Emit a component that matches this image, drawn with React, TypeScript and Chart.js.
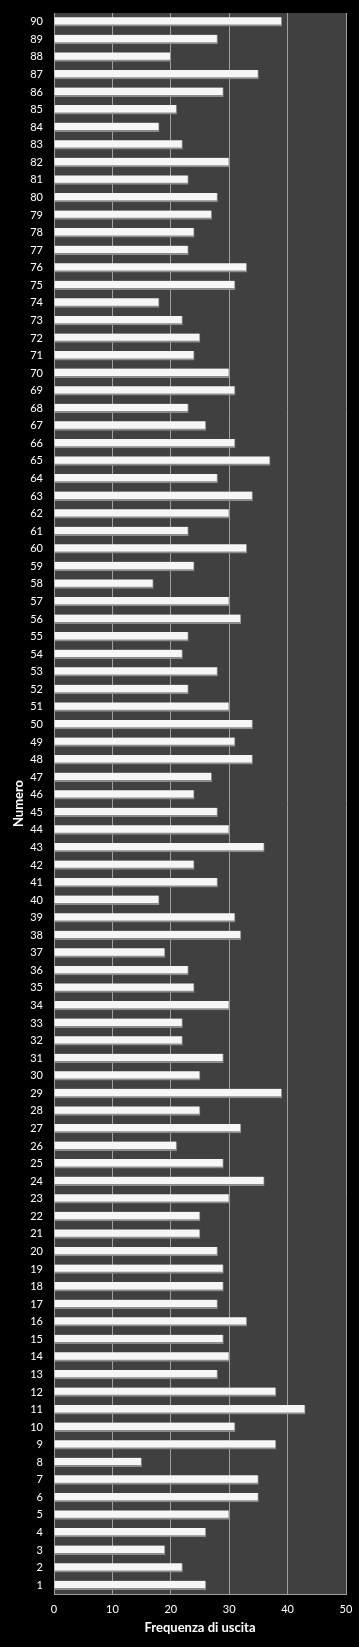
import React, { useEffect, useRef } from "react";
import { Chart, registerables } from "chart.js";

Chart.register(...registerables);

const numbers: string[] = [
  "1", "2", "3", "4", "5", "6", "7", "8", "9", "10",
  "11", "12", "13", "14", "15", "16", "17", "18", "19", "20",
  "21", "22", "23", "24", "25", "26", "27", "28", "29", "30",
  "31", "32", "33", "34", "35", "36", "37", "38", "39", "40",
  "41", "42", "43", "44", "45", "46", "47", "48", "49", "50",
  "51", "52", "53", "54", "55", "56", "57", "58", "59", "60",
  "61", "62", "63", "64", "65", "66", "67", "68", "69", "70",
  "71", "72", "73", "74", "75", "76", "77", "78", "79", "80",
  "81", "82", "83", "84", "85", "86", "87", "88", "89", "90",
];

const frequencies: number[] = [
  26, 22, 19, 26, 30, 35, 35, 15, 38, 31,
  43, 38, 28, 30, 29, 33, 28, 29, 29, 28,
  25, 25, 30, 36, 29, 21, 32, 25, 39, 25,
  29, 22, 22, 30, 24, 23, 19, 32, 31, 18,
  28, 24, 36, 30, 28, 24, 27, 34, 31, 34,
  30, 23, 28, 22, 23, 32, 30, 17, 24, 33,
  23, 30, 34, 28, 37, 31, 26, 23, 31, 30,
  24, 25, 22, 18, 31, 33, 23, 24, 27, 28,
  23, 30, 22, 18, 21, 29, 35, 20, 28, 39,
];

const xTickMin = 0;
const xTickMax = 50;
const xTickStep = 10;

const xTitle = "Frequenza di uscita";
const yTitle = "Numero";

const FONT = "Lato, 'Open Sans', sans-serif";

const bgPlugin = {
  id: "bgPlugin",
  beforeDraw(chart: any) {
    const { ctx, chartArea, width, height } = chart;
    ctx.save();
    ctx.fillStyle = "#000000";
    ctx.fillRect(0, 0, width, height);
    ctx.fillStyle = "#404040";
    ctx.fillRect(chartArea.left, chartArea.top, chartArea.right - chartArea.left, chartArea.bottom - chartArea.top);
    ctx.restore();
  },
};

export default function App() {
  const canvasRef = useRef<HTMLCanvasElement | null>(null);

  useEffect(() => {
    document.body.style.margin = "0";
    document.body.style.background = "#000";
    const canvas = canvasRef.current;
    if (!canvas) return;
    const chart = new Chart(canvas, {
      type: "bar",
      data: {
        labels: numbers,
        datasets: [
          {
            data: frequencies,
            backgroundColor: "#f6f6f6",
            borderColor: "#8c8c8c",
            borderWidth: { top: 0, left: 0, right: 1, bottom: 2 },
            borderSkipped: false,
            barThickness: 9,
          },
        ],
      },
      plugins: [bgPlugin],
      options: {
        indexAxis: "y",
        responsive: false,
        animation: false,
        devicePixelRatio: 1,
        layout: { padding: { top: 13, right: 13, left: 0, bottom: 0 } },
        plugins: {
          legend: { display: false },
          tooltip: { enabled: false },
        },
        scales: {
          x: {
            type: "linear",
            min: xTickMin,
            max: xTickMax,
            ticks: {
              stepSize: xTickStep,
              color: "#ffffff",
              font: { family: FONT, size: 11 },
              padding: 9,
            },
            grid: { color: "#a0a0a0", drawTicks: false, lineWidth: 1 },
            border: { display: true, color: "#a0a0a0" },
            title: {
              display: true,
              text: xTitle,
              color: "#ffffff",
              font: { family: FONT, size: 13, weight: "bold" },
              padding: { top: 0, bottom: 11 },
            },
            afterFit(scale: any) {
              scale.height = 53;
              scale.paddingLeft = 0;
              scale.paddingRight = 0;
            },
          },
          y: {
            type: "category",
            reverse: true,
            ticks: {
              color: "#ffffff",
              font: { family: FONT, size: 11 },
              padding: 11,
              autoSkip: false,
            },
            grid: { display: false, drawTicks: false },
            border: { display: true, color: "#a0a0a0" },
            title: {
              display: true,
              text: yTitle,
              color: "#ffffff",
              font: { family: FONT, size: 13, weight: "bold" },
              padding: { top: 11, bottom: 0 },
            },
            afterFit(scale: any) {
              scale.width = 54;
              scale.paddingTop = 0;
              scale.paddingBottom = 0;
            },
          },
        },
      },
    } as any);
    return () => chart.destroy();
  }, []);

  return (
    <div style={{ width: 359, height: 1647, background: "#000" }}>
      <canvas ref={canvasRef} width={359} height={1647} style={{ display: "block" }} />
    </div>
  );
}
